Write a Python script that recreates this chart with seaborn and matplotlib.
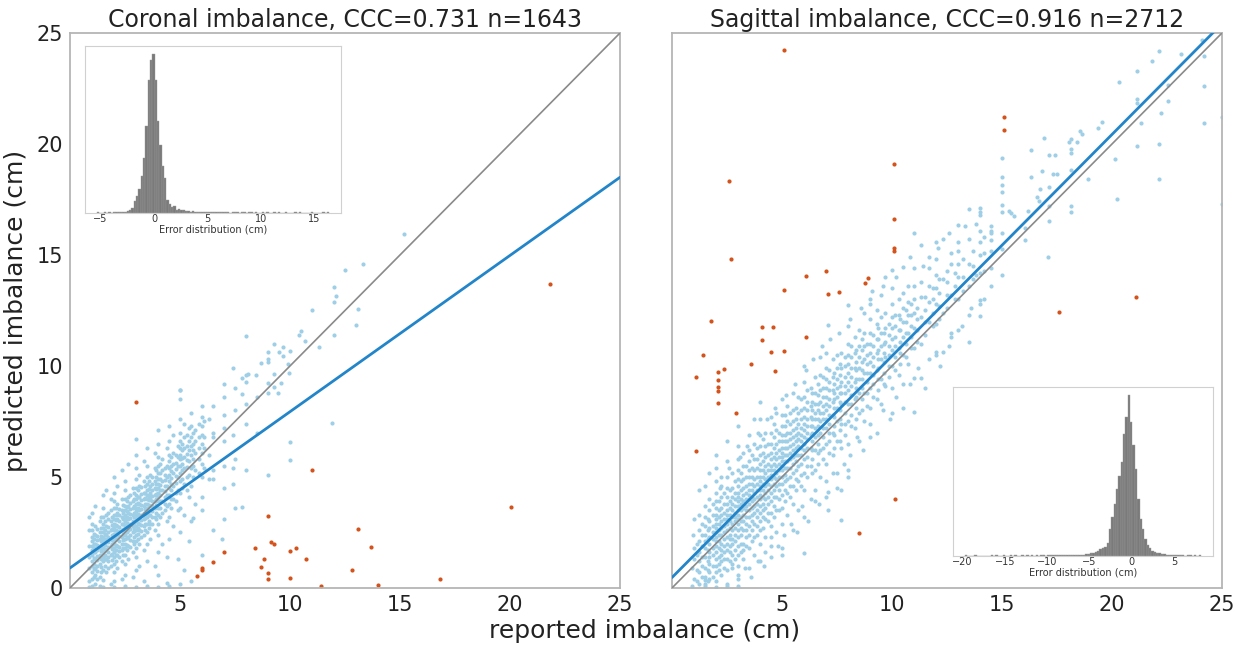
import numpy as np
import pandas as pd
import matplotlib
matplotlib.use("Agg")
import matplotlib.pyplot as plt
import seaborn as sns

sns.set_theme(style="white")
plt.rcParams["font.family"] = ["DejaVu Sans"]


def col(x, ys):
    """Points sharing one reported value."""
    return [(x, y) for y in ys]


# ---------------- Coronal imbalance ----------------
cor_title = "Coronal imbalance, CCC=0.731 n=1643"
cor_fit = (0.704, 0.90)          # slope, intercept of the regression line

cor_inliers = (
    col(0.85, [0.05, 0.3, 0.9, 1.4, 1.9, 2.6, 3.2])
    + col(1.0, [0.1, 0.4, 0.7, 1.0, 1.2, 1.5, 1.7, 1.9, 2.1, 2.3, 2.6, 2.9, 3.4])
    + col(1.15, [0.2, 0.6, 0.9, 1.3, 1.6, 2.0, 2.4, 2.8, 3.7])
    + col(1.35, [0.1, 0.5, 1.1, 1.5, 1.8, 2.2, 2.5, 3.0])
    + col(1.5, [0.05, 0.35, 0.8, 1.2, 1.4, 1.6, 1.8, 2.0, 2.15, 2.3, 2.5, 2.7, 2.9, 3.2, 3.6, 4.2])
    + col(1.65, [0.7, 1.3, 1.7, 2.1, 2.4, 2.8, 3.3, 4.4])
    + col(1.85, [0.2, 1.0, 1.5, 1.9, 2.2, 2.6, 3.0, 3.5, 4.0])
    + col(2.0, [0.05, 0.3, 0.7, 1.1, 1.4, 1.6, 1.8, 2.0, 2.1, 2.3, 2.45, 2.6, 2.75, 2.9, 3.1, 3.3, 3.6, 3.9, 4.3, 5.0])
    + col(2.15, [0.9, 1.5, 1.9, 2.2, 2.5, 2.8, 3.1, 3.4, 3.8, 4.6])
    + col(2.35, [0.4, 1.2, 1.7, 2.0, 2.3, 2.6, 2.9, 3.2, 3.5, 4.0, 5.3])
    + col(2.5, [0.1, 0.6, 1.1, 1.5, 1.8, 2.0, 2.2, 2.4, 2.55, 2.7, 2.85, 3.0, 3.15, 3.3, 3.5, 3.7, 4.0, 4.4, 4.8])
    + col(2.65, [1.3, 1.9, 2.3, 2.6, 2.8, 3.1, 3.4, 3.7, 4.1, 5.6])
    + col(2.85, [0.5, 1.6, 2.1, 2.5, 2.8, 3.0, 3.3, 3.6, 3.9, 4.5])
    + col(3.0, [0.05, 0.8, 1.4, 1.8, 2.1, 2.4, 2.6, 2.8, 3.0, 3.15, 3.3, 3.45, 3.6, 3.8, 4.0, 4.2, 4.5, 4.9, 5.4, 6.0, 6.7])
    + col(3.15, [1.0, 2.0, 2.6, 2.9, 3.2, 3.5, 3.8, 4.1, 4.6, 5.1])
    + col(3.35, [0.3, 1.7, 2.4, 2.8, 3.1, 3.4, 3.7, 4.0, 4.3, 4.8, 5.7])
    + col(3.5, [0.1, 1.2, 2.0, 2.5, 2.9, 3.2, 3.4, 3.6, 3.8, 4.0, 4.2, 4.4, 4.7, 5.0, 5.5, 6.3])
    + col(3.65, [2.2, 2.9, 3.3, 3.7, 4.0, 4.3, 4.6, 5.1])
    + col(3.85, [1.0, 2.6, 3.2, 3.6, 3.9, 4.2, 4.5, 4.8, 5.4, 6.1])
    + col(4.0, [0.05, 0.6, 1.6, 2.4, 2.9, 3.3, 3.6, 3.9, 4.1, 4.3, 4.5, 4.7, 4.9, 5.2, 5.5, 5.9, 6.5, 7.1])
    + col(4.2, [2.0, 3.4, 3.9, 4.4, 4.8, 5.3, 5.8])
    + col(4.4, [0.24, 1.4, 3.0, 3.7, 4.2, 4.6, 5.0, 5.5, 6.3])
    + col(4.5, [0.1, 2.2, 3.2, 3.8, 4.2, 4.5, 4.8, 5.1, 5.4, 5.7, 6.0, 6.6, 7.3])
    + col(4.7, [2.8, 4.0, 4.6, 5.2, 5.6, 6.1, 6.9])
    + col(4.9, [1.3, 3.5, 4.4, 5.0, 5.5, 5.9, 6.4])
    + col(5.0, [0.2, 2.5, 3.6, 4.3, 4.8, 5.2, 5.5, 5.8, 6.0, 6.3, 6.6, 7.0, 7.6, 8.5, 8.9])
    + col(5.2, [0.81, 3.3, 4.7, 5.4, 5.9, 6.3, 6.8, 7.4])
    + col(5.4, [2.1, 4.1, 5.1, 5.7, 6.2, 6.6, 7.2])
    + col(5.5, [0.3, 3.0, 4.6, 5.4, 6.0, 6.4, 6.8, 7.3, 7.9])
    + col(5.6, [3.17])
    + col(5.7, [3.8, 5.3, 6.1, 6.6, 7.1])
    + col(6.0, [1.5, 3.5, 4.1, 5.0, 5.6, 6.1, 6.5, 6.9, 7.3, 7.7, 8.2])
    + col(6.3, [4.9, 6.0, 7.6])
    + col(6.5, [2.6, 4.9, 5.3, 6.8, 7.0, 8.2])
    + col(6.9, [2.19])
    + col(7.0, [3.1, 4.5, 5.5, 6.6, 7.2, 7.8, 8.6, 9.2])
    + col(7.4, [4.7, 5.42, 6.9, 9.9])
    + col(7.5, [3.6, 5.8, 8.0, 9.0])
    + col(7.8, [3.66, 8.75, 9.45])
    + col(8.0, [5.3, 7.4, 8.3, 9.3, 9.61, 11.37])
    + [(8.1, 9.64), (8.47, 9.61), (8.5, 7.0), (8.5, 8.6), (8.69, 10.15)]
    + col(9.0, [5.1, 8.8, 9.22, 10.19, 10.31, 10.63])
    + [(9.29, 9.07), (9.29, 9.64), (9.29, 10.98), (9.45, 8.8), (9.48, 10.64),
       (9.6, 9.22), (9.69, 10.46), (9.69, 10.87), (9.97, 9.67), (9.9, 10.1),
       (10.0, 10.69), (10.0, 6.58), (10.0, 5.77), (10.39, 11.41), (10.5, 11.58),
       (10.7, 11.13), (11.0, 12.52), (11.3, 10.87), (11.9, 7.45), (12.0, 11.4),
       (12.0, 12.9), (12.1, 13.17), (12.0, 13.57), (12.5, 14.32), (13.0, 11.83),
       (13.1, 12.58), (13.3, 14.58), (15.2, 15.95), (4.98, 8.92)]
)

# the crowded centre of the coronal cloud
cor_core = (
    col(1.08, [0.5, 0.85, 1.1, 1.35, 1.6, 1.8, 2.0, 2.2, 2.45])
    + col(1.25, [0.4, 0.75, 1.0, 1.25, 1.45, 1.7, 1.95, 2.15, 2.35, 2.65])
    + col(1.42, [0.7, 0.95, 1.3, 1.65, 1.95, 2.1, 2.35, 2.7, 3.2])
    + col(1.58, [1.0, 1.3, 1.5, 1.75, 1.95, 2.2, 2.45, 2.6, 3.0])
    + col(1.75, [0.9, 1.2, 1.4, 1.6, 1.85, 2.05, 2.3, 2.5, 2.75, 3.1, 3.4])
    + col(1.92, [1.25, 1.55, 1.75, 2.0, 2.15, 2.4, 2.65, 2.85, 3.2])
    + col(2.08, [1.2, 1.5, 1.7, 1.95, 2.2, 2.4, 2.6, 2.85, 3.05, 3.3, 3.6])
    + col(2.25, [1.4, 1.65, 1.85, 2.1, 2.35, 2.55, 2.75, 3.0, 3.3, 3.55])
    + col(2.42, [1.5, 1.8, 2.15, 2.45, 2.65, 2.9, 3.1, 3.4, 3.75])
    + col(2.58, [1.7, 1.95, 2.25, 2.5, 2.75, 2.95, 3.2, 3.45, 3.65, 3.9])
    + col(2.75, [1.85, 2.15, 2.4, 2.65, 2.9, 3.15, 3.35, 3.55, 3.85, 4.2])
    + col(2.92, [2.0, 2.3, 2.55, 2.7, 2.95, 3.2, 3.4, 3.7, 4.0, 4.3])
    + col(3.08, [2.2, 2.45, 2.7, 2.95, 3.1, 3.35, 3.6, 3.85, 4.1, 4.4])
    + col(3.25, [2.3, 2.55, 2.85, 3.05, 3.3, 3.55, 3.75, 3.95, 4.25, 4.55])
    + col(3.42, [2.6, 2.9, 3.15, 3.35, 3.55, 3.8, 4.05, 4.3, 4.6])
    + col(3.58, [2.7, 3.0, 3.3, 3.5, 3.75, 3.95, 4.15, 4.45, 4.8])
    + col(3.75, [2.9, 3.2, 3.45, 3.7, 3.9, 4.15, 4.4, 4.7, 5.0])
    + col(3.92, [3.1, 3.4, 3.75, 4.0, 4.25, 4.45, 4.7, 5.0, 5.3])
    + col(4.1, [3.2, 3.6, 3.9, 4.2, 4.4, 4.65, 4.9, 5.2, 5.6])
    + col(4.3, [3.5, 3.8, 4.1, 4.35, 4.6, 4.85, 5.1, 5.4])
    + col(4.6, [3.6, 4.0, 4.4, 4.7, 4.95, 5.25, 5.5, 5.9])
    + col(4.8, [3.9, 4.3, 4.75, 5.05, 5.35, 5.65, 6.0])
    + col(5.1, [4.5, 4.9, 5.3, 5.6, 5.85, 6.2, 6.5])
    + col(5.3, [4.4, 5.0, 5.45, 5.75, 6.05, 6.4, 6.9])
    + col(5.6, [5.0, 5.5, 5.8, 6.2, 6.5, 7.0])
    + col(5.85, [5.2, 5.8, 6.3, 6.8, 7.4])
    + col(6.1, [5.4, 6.3, 6.8, 7.5])
)

cor_outliers = [
    (2.99, 8.37), (11.0, 5.32), (20.03, 3.63), (9.0, 3.23), (13.1, 2.67),
    (9.12, 2.06), (9.29, 1.97), (8.39, 1.80), (13.7, 1.83), (6.98, 1.61),
    (10.0, 1.68), (10.29, 1.79), (10.71, 1.32), (8.8, 1.31), (6.49, 1.19),
    (8.69, 0.95), (6.0, 0.92), (6.0, 0.81), (12.8, 0.80), (5.76, 0.53),
    (9.0, 0.66), (9.0, 0.39), (10.0, 0.44), (16.8, 0.42), (11.4, 0.10),
    (14.0, 0.14), (21.8, 13.7),
]

# error histogram (reported - predicted), 100 bins
cor_err_range = (-5.38, 16.44)
cor_err_counts = [
    1, 0, 0, 1, 0, 1, 0, 1, 1, 1, 1, 2, 2, 3, 4, 7, 17, 24,
    34, 53, 79, 125, 192, 220, 229, 192, 132, 98, 67, 50,
    19, 13, 9, 10, 5, 6, 4, 5, 3, 3, 2, 3, 2, 2, 2, 2, 1, 2, 1, 1,
    2, 1, 1, 2, 1, 1, 1, 0, 1, 1, 1, 0, 1, 1, 0, 1, 1, 0, 1, 0,
    0, 1, 0, 1, 0, 0, 1, 0, 1, 0, 0, 1, 0, 0, 0, 1, 0, 1, 0, 0,
    0, 0, 1, 0, 0, 0, 0, 1, 0, 1,
]
cor_err_ticks = [-5, 0, 5, 10, 15]

# ---------------- Sagittal imbalance ----------------
sag_title = "Sagittal imbalance, CCC=0.916 n=2712"
sag_fit = (0.998, 0.47)

sag_inliers = (
    col(0.9, [0.1, 0.9]) + col(1.0, [0.4, 1.3, 1.8, 3.1]) + [(0.95, 2.4)]
    + col(1.25, [0.2, 0.7, 1.2, 1.6, 2.1, 2.6, 3.3, 4.4])
    + col(1.5, [0.1, 0.2, 0.36, 0.5, 0.9, 1.4, 1.8, 2.1, 2.4, 2.8, 3.2, 3.7, 4.6])
    + col(1.7, [0.4, 0.7, 1.1, 1.4, 1.6, 2.0, 2.3, 2.7, 3.0, 3.5, 4.0, 5.2])
    + col(2.0, [0.05, 0.3, 0.7, 1.0, 1.3, 1.6, 1.9, 2.1, 2.3, 2.5, 2.7, 2.9, 3.1, 3.3, 3.6, 3.9, 4.3, 4.8, 5.4, 6.0])
    + col(2.25, [0.6, 1.2, 1.5, 1.7, 2.0, 2.4, 2.7, 3.0, 3.3, 3.6, 4.1, 4.6, 5.0])
    + col(2.5, [0.2, 0.8, 1.3, 1.7, 2.0, 2.3, 2.6, 2.9, 3.1, 3.3, 3.5, 3.8, 4.1, 4.5, 5.0, 5.7, 6.6])
    + col(2.75, [0.9, 1.1, 1.5, 2.0, 2.2, 2.6, 2.9, 3.2, 3.5, 3.8, 4.1, 4.5, 5.2])
    + col(3.0, [0.09, 0.4, 1.0, 1.5, 1.9, 2.3, 2.6, 2.9, 3.1, 3.3, 3.5, 3.7, 3.9, 4.1, 4.3, 4.6, 4.9, 5.3, 5.8, 6.4, 7.3])
    + col(3.25, [1.3, 1.7, 2.0, 2.6, 3.0, 3.3, 3.6, 3.9, 4.2, 4.5, 4.9, 5.5, 6.1])
    + col(3.5, [0.9, 1.8, 2.4, 2.8, 3.2, 3.5, 3.8, 4.0, 4.2, 4.4, 4.7, 5.0, 5.3, 5.7, 6.2, 6.9])
    + col(3.75, [1.5, 2.3, 2.9, 3.4, 3.7, 4.0, 4.3, 4.6, 4.9, 5.3, 5.8, 6.5, 7.6])
    + col(4.0, [1.2, 2.0, 2.6, 3.0, 3.4, 3.7, 4.0, 4.2, 4.4, 4.6, 4.8, 5.0, 5.3, 5.6, 6.0, 6.4, 6.9, 7.6, 8.4])
    + col(4.25, [1.6, 2.3, 3.1, 3.6, 4.0, 4.3, 4.6, 4.9, 5.2, 5.5, 5.9, 6.4, 7.0])
    + col(4.5, [1.41, 1.9, 2.8, 3.4, 3.9, 4.3, 4.6, 4.9, 5.1, 5.3, 5.5, 5.8, 6.1, 6.5, 7.0, 7.7])
    + col(4.75, [2.5, 3.5, 4.1, 4.6, 4.9, 5.2, 5.5, 5.8, 6.1, 6.5, 7.1, 7.9])
    + col(5.0, [1.49, 1.8, 2.9, 3.6, 4.2, 4.7, 5.0, 5.3, 5.5, 5.7, 5.9, 6.1, 6.3, 6.6, 6.9, 7.3, 7.8, 8.5])
    + col(5.25, [3.3, 4.3, 4.9, 5.4, 5.7, 6.0, 6.3, 6.6, 7.0, 7.5, 8.2])
    + col(5.5, [2.6, 3.8, 4.6, 5.2, 5.6, 5.9, 6.2, 6.5, 6.8, 7.1, 7.5, 8.0, 8.8])
    + col(5.75, [3.5, 4.8, 5.5, 6.0, 6.4, 6.7, 7.0, 7.4, 7.9, 8.6])
    + col(6.0, [1.56, 3.2, 4.4, 5.2, 5.8, 6.2, 6.5, 6.8, 7.1, 7.4, 7.7, 8.1, 8.6, 9.3, 10.0])
    + col(6.3, [4.0, 5.5, 6.3, 6.9, 7.3, 7.7, 8.2, 9.0])
    + col(6.5, [3.9, 5.3, 6.2, 6.8, 7.2, 7.6, 7.9, 8.3, 8.8, 9.5])
    + col(6.75, [5.0, 6.2, 7.0, 7.5, 7.9, 8.4, 8.9, 9.6, 10.4])
    + col(7.0, [4.1, 5.6, 6.5, 7.2, 7.6, 8.0, 8.3, 8.6, 9.0, 9.4, 9.9, 10.6])
    + col(7.1, [3.51, 4.34, 11.86])
    + col(7.3, [6.0, 7.0, 7.8, 8.4, 8.9, 9.5, 10.3])
    + col(7.5, [5.2, 6.6, 7.5, 8.1, 8.6, 9.0, 9.4, 9.9, 10.5])
    + col(7.7, [3.06, 4.41, 6.3, 7.4, 8.3, 8.8, 9.3, 9.9, 10.6])
    + col(8.0, [5.0, 5.3, 6.5, 7.5, 8.3, 8.9, 9.3, 9.7, 10.1, 10.5, 11.0, 11.8, 12.73])
    + col(8.3, [7.2, 8.5, 9.3, 9.9, 10.6, 11.3])
    + col(8.5, [6.6, 7.9, 8.8, 9.4, 9.9, 10.4, 10.9, 11.6])
    + col(8.75, [7.5, 8.8, 9.7, 10.3, 10.9, 11.5, 12.4])
    + col(9.0, [6.8, 8.1, 9.0, 9.7, 10.2, 10.6, 11.0, 11.5, 12.1, 12.77, 13.0])
    + col(9.3, [8.5, 9.8, 10.6, 11.2, 11.9, 12.5])
    + col(9.5, [8.3, 9.4, 10.3, 10.9, 11.5, 12.2, 13.2])
    + col(9.7, [9.1, 10.4, 11.1, 11.7, 12.4, 14.03])
    + col(10.0, [7.9, 9.0, 10.0, 10.7, 11.2, 11.7, 12.2, 12.8, 13.5, 14.33])
    + col(10.3, [9.6, 10.8, 11.6, 12.3, 13.0])
    + col(10.5, [9.2, 10.5, 11.3, 12.0, 12.6, 13.3, 14.45])
    + col(10.75, [10.1, 11.5, 12.3, 12.9, 13.6])
    + col(11.0, [7.94, 9.44, 10.8, 11.7, 12.4, 13.0, 13.6, 14.4, 16.0])
    + col(11.3, [9.44, 11.0, 12.2, 13.1, 13.8, 15.45])
    + col(11.7, [10.3, 12.0, 12.9, 13.6, 14.4, 14.9])
    + col(12.0, [10.5, 10.65, 11.9, 12.8, 13.5, 14.1, 14.8, 15.6])
    + col(12.3, [10.65, 12.4, 13.9, 15.7])
    + col(12.7, [11.32, 11.5, 13.2, 14.6, 15.1])
    + col(13.0, [11.6, 13.0, 14.0, 14.6, 15.2, 15.6, 16.36])
    + col(13.5, [11.1, 12.3, 13.6, 14.6, 15.7, 17.05])
    + col(13.8, [14.1, 16.4])
    + col(14.0, [12.25, 12.8, 12.97, 14.2, 15.0, 15.6, 16.1, 16.8, 16.95, 17.1])
    + col(14.5, [13.6, 14.4, 15.2, 15.67, 15.97, 16.07, 16.29])
    + col(15.0, [14.1, 15.25, 16.0, 16.94, 17.24, 17.82, 18.14, 18.51, 19.37])
    + [(15.3, 17.0), (15.43, 16.89), (15.53, 16.74),
       (16.06, 16.2), (16.06, 15.67), (16.32, 19.71), (16.32, 18.5), (16.61, 17.61),
       (16.7, 17.42), (16.73, 17.99), (16.82, 18.77), (16.93, 20.29), (16.2, 17.0),
       (17.07, 14.9), (17.12, 19.49), (17.43, 19.5), (17.34, 18.65), (17.52, 18.65),
       (17.12, 18.06), (17.12, 17.19), (17.12, 16.52),
       (18.03, 20.09), (18.12, 20.24), (18.43, 20.08), (18.12, 19.79), (18.12, 19.59),
       (18.62, 20.47), (18.12, 18.81), (18.12, 17.19), (18.12, 16.95), (18.93, 18.44),
       (18.56, 20.6), (19.35, 20.71), (19.53, 21.01), (20.12, 19.32), (20.22, 17.54),
       (20.34, 22.79), (21.14, 23.3), (21.14, 22.03), (21.14, 21.85), (21.34, 20.95),
       (21.14, 19.89), (21.84, 23.74), (22.14, 24.19), (22.15, 20.02), (22.14, 18.44),
       (22.23, 21.4), (22.55, 22.67), (22.55, 21.94), (23.14, 24.07), (24.08, 24.67),
       (24.16, 22.6), (24.16, 20.95), (24.19, 23.95), (25.0, 17.3), (25.0, 21.2)]
)

# the crowded band of the sagittal cloud
sag_core = (
    col(1.12, [0.3, 0.8, 1.5, 2.0])
    + col(1.38, [0.5, 1.0, 1.4, 1.9, 2.4, 2.9])
    + col(1.62, [0.3, 0.8, 1.2, 1.7, 2.2, 2.6, 3.1])
    + col(1.85, [0.5, 1.0, 1.5, 1.8, 2.2, 2.5, 2.8, 3.3, 3.8])
    + col(2.12, [0.8, 1.1, 1.4, 1.8, 2.1, 2.4, 2.6, 2.9, 3.2, 3.5, 3.9])
    + col(2.38, [0.9, 1.3, 1.6, 1.9, 2.2, 2.5, 2.8, 3.1, 3.4, 3.8, 4.3])
    + col(2.62, [1.2, 1.6, 1.9, 2.2, 2.4, 2.7, 3.0, 3.3, 3.6, 3.9, 4.4])
    + col(2.88, [1.3, 1.7, 2.1, 2.4, 2.7, 3.0, 3.2, 3.4, 3.7, 4.0, 4.3, 4.8])
    + col(3.12, [1.6, 2.0, 2.4, 2.7, 3.0, 3.2, 3.5, 3.8, 4.0, 4.4, 4.8, 5.2])
    + col(3.38, [1.9, 2.3, 2.6, 2.9, 3.2, 3.5, 3.7, 4.0, 4.3, 4.6, 5.0, 5.5])
    + col(3.62, [2.1, 2.6, 3.0, 3.3, 3.6, 3.9, 4.1, 4.4, 4.7, 5.0, 5.4, 6.0])
    + col(3.88, [2.4, 2.8, 3.2, 3.5, 3.8, 4.1, 4.4, 4.7, 5.0, 5.4, 5.8, 6.3])
    + col(4.12, [2.7, 3.2, 3.5, 3.8, 4.1, 4.4, 4.7, 5.0, 5.3, 5.7, 6.1, 6.7])
    + col(4.38, [3.0, 3.4, 3.8, 4.1, 4.4, 4.7, 5.0, 5.3, 5.6, 6.0, 6.5])
    + col(4.62, [3.2, 3.7, 4.1, 4.4, 4.7, 5.0, 5.3, 5.6, 5.9, 6.3, 6.8, 7.4])
    + col(4.88, [3.5, 4.0, 4.4, 4.7, 5.0, 5.3, 5.6, 5.9, 6.2, 6.6, 7.0])
    + col(5.12, [3.9, 4.4, 4.8, 5.1, 5.4, 5.7, 6.0, 6.3, 6.6, 6.9, 7.3, 7.8])
    + col(5.38, [4.1, 4.6, 5.0, 5.4, 5.8, 6.1, 6.4, 6.7, 7.0, 7.4, 7.9])
    + col(5.62, [4.4, 4.9, 5.3, 5.7, 6.0, 6.3, 6.6, 6.9, 7.2, 7.6, 8.1])
    + col(5.88, [4.6, 5.1, 5.6, 6.0, 6.3, 6.6, 6.9, 7.2, 7.6, 8.0, 8.5])
    + col(6.12, [5.0, 5.5, 5.9, 6.3, 6.7, 7.0, 7.3, 7.6, 8.0, 8.4, 8.9])
    + col(6.38, [5.2, 5.8, 6.2, 6.6, 7.0, 7.3, 7.6, 8.0, 8.4, 8.8])
    + col(6.62, [5.6, 6.1, 6.5, 6.9, 7.3, 7.6, 8.0, 8.3, 8.7, 9.2])
    + col(6.88, [5.8, 6.3, 6.8, 7.2, 7.6, 7.9, 8.2, 8.6, 9.0, 9.5])
    + col(7.12, [6.1, 6.6, 7.0, 7.4, 7.8, 8.2, 8.5, 8.9, 9.3, 9.8])
    + col(7.38, [6.3, 6.9, 7.3, 7.7, 8.1, 8.5, 8.8, 9.2, 9.7])
    + col(7.62, [6.6, 7.1, 7.6, 8.0, 8.4, 8.8, 9.1, 9.6, 10.1])
    + col(7.88, [6.9, 7.4, 7.9, 8.4, 8.8, 9.1, 9.5, 10.0, 10.4])
    + col(8.12, [7.3, 7.8, 8.3, 8.7, 9.1, 9.5, 9.9, 10.4, 10.9])
    + col(8.38, [7.6, 8.1, 8.6, 9.0, 9.4, 9.8, 10.2, 10.7])
    + col(8.62, [8.0, 8.5, 9.0, 9.4, 9.8, 10.2, 10.7, 11.2])
    + col(8.88, [8.2, 8.8, 9.3, 9.7, 10.1, 10.5, 11.0])
    + col(9.12, [8.6, 9.2, 9.6, 10.0, 10.4, 10.9, 11.4])
    + col(9.38, [8.9, 9.4, 9.9, 10.3, 10.7, 11.2, 11.7])
    + col(9.62, [9.2, 9.7, 10.2, 10.6, 11.0, 11.5])
    + col(9.88, [9.5, 10.0, 10.5, 10.9, 11.4, 11.9])
    + col(10.12, [9.8, 10.4, 10.9, 11.3, 11.8, 12.3])
    + col(10.38, [10.1, 10.6, 11.1, 11.6, 12.1])
    + col(10.62, [10.4, 11.0, 11.5, 12.0, 12.5])
    + col(10.88, [10.8, 11.3, 11.8, 12.3, 12.8])
    + col(11.12, [11.1, 11.6, 12.1, 12.6])
    + col(11.5, [11.4, 12.0, 12.5, 13.1])
    + col(11.85, [11.8, 12.4, 13.0, 13.5])
    + col(12.15, [12.1, 12.7, 13.3, 13.9])
    + col(12.5, [12.6, 13.2, 13.8, 14.3])
    + col(12.85, [13.0, 13.6, 14.2])
    + col(13.25, [13.4, 14.0, 14.8])
    + col(13.7, [13.9, 14.5, 15.2])
    + col(14.2, [14.3, 15.1, 15.8])
)

# looser points on both sides of the sagittal band
sag_spread = [
    (2.5, 0.1), (3.0, 0.6), (3.3, 0.9), (3.6, 0.5), (3.9, 1.2), (4.2, 1.0),
    (4.5, 2.3), (4.8, 1.9), (5.1, 2.4), (5.4, 2.9), (5.7, 2.5), (5.9, 3.7),
    (6.2, 3.0), (6.5, 4.4), (6.7, 3.8), (7.0, 4.8), (7.3, 5.2), (7.5, 4.5),
    (7.8, 5.6), (8.1, 6.0), (8.4, 6.8), (8.7, 6.2), (9.0, 7.4), (9.3, 7.0),
    (9.6, 8.0), (9.9, 7.6), (10.2, 8.6), (10.5, 8.1), (10.8, 9.2), (11.2, 9.9),
    (11.5, 9.0), (12.2, 10.0), (12.6, 10.9), (13.2, 11.8), (13.6, 12.6), (14.2, 13.0),
    (2.2, 4.5), (2.6, 5.4), (3.1, 5.9), (3.4, 6.4), (3.9, 7.0), (4.3, 7.6),
    (4.7, 8.1), (5.2, 8.7), (5.6, 9.2), (6.1, 9.8), (6.4, 10.3), (6.8, 10.9),
    (7.2, 11.2), (7.6, 11.5), (8.1, 12.1), (8.6, 12.6), (9.1, 13.4), (9.6, 13.6),
    (10.2, 14.0), (10.8, 14.9), (11.4, 14.5), (12.1, 15.3), (12.6, 16.0), (13.3, 16.3),
]

sag_outliers = [
    (5.09, 24.23), (15.07, 21.23), (15.07, 20.65), (10.09, 19.08), (2.59, 18.35),
    (10.09, 16.64), (10.09, 15.3), (10.09, 15.2), (2.67, 14.82), (21.09, 13.09),
    (6.99, 14.29), (6.1, 14.07), (8.9, 13.95), (8.78, 13.72), (5.09, 13.44),
    (7.09, 13.26), (7.59, 13.33), (17.59, 12.42), (1.79, 12.04), (4.08, 11.76),
    (4.59, 11.76), (4.11, 11.17), (1.39, 10.5), (4.5, 10.62), (5.09, 10.68),
    (6.1, 11.32), (3.59, 10.1), (2.38, 9.86), (2.1, 9.74), (2.1, 9.37),
    (2.1, 9.04), (2.1, 8.89), (2.1, 8.33), (1.09, 9.49), (4.7, 9.76),
    (2.91, 7.87), (1.09, 6.16), (10.12, 4.02), (8.52, 2.48),
]

sag_err_range = (-19.75, 8.17)
sag_err_counts = [
    1, 0, 0, 0, 1, 0, 0, 0, 0, 0, 0, 1, 0, 1, 0, 0, 1, 0, 0, 1,
    0, 1, 0, 0, 1, 0, 1, 0, 1, 0, 1, 0, 1, 1, 0, 1, 1, 1, 1, 1,
    1, 1, 1, 2, 1, 1, 2, 2, 2, 2,
    2, 3, 3, 5, 6, 8, 10, 13, 15, 18,
    26, 53, 76, 102, 132, 158, 185, 241, 274, 317, 264, 218, 172, 112, 73, 53,
    33, 21, 15, 9, 7, 6, 5, 3, 3, 2,
    1, 1, 1, 1, 1, 1, 1, 0, 1, 1, 0, 1, 0, 1,
]
sag_err_ticks = [-20, -15, -10, -5, 0, 5]

axis_ticks = [0, 5, 10, 15, 20, 25]
xlabel_text = "reported imbalance (cm)"
ylabel_text = "predicted imbalance (cm)"
inset_label = "Error distribution (cm)"

# ---------------- styling ----------------
POINT = "#9fcfe6"
OUTLIER = "#d4521c"
FIT = "#2385c9"
IDENT = "#8a8a8a"
SPINE = "#b5b5b5"
BAR = "#7a7a7a"

fig = plt.figure(figsize=(12.49, 6.48), dpi=100)
ax_c = fig.add_axes([0.056, 0.0926, 0.4404, 0.8565])
ax_s = fig.add_axes([0.538, 0.0926, 0.4404, 0.8565])


def draw_panel(ax, inliers, outliers, fit, title, show_y):
    df_in = pd.DataFrame(inliers, columns=["reported", "predicted"])
    df_out = pd.DataFrame(outliers, columns=["reported", "predicted"])
    sns.scatterplot(data=df_in, x="reported", y="predicted", ax=ax,
                    color=POINT, s=9, linewidth=0, marker="o", zorder=2)
    sns.scatterplot(data=df_out, x="reported", y="predicted", ax=ax,
                    color=OUTLIER, s=9, linewidth=0, marker="o", zorder=2)
    line_x = np.array([0.0, 25.0])
    ax.plot(line_x, line_x, color=IDENT, lw=1.2, zorder=3)
    ax.plot(line_x, fit[0] * line_x + fit[1], color=FIT, lw=2.0, zorder=4)
    ax.set_xlim(0, 25)
    ax.set_ylim(0, 25)
    ax.set_xticks(axis_ticks[1:])
    ax.set_yticks(axis_ticks)
    ax.tick_params(axis="both", length=0, labelsize=15, pad=5, colors="#222222")
    if not show_y:
        ax.set_yticklabels([])
    ax.set_xlabel("")
    ax.set_ylabel("")
    ax.set_title(title, fontsize=17, pad=4, color="#222222")
    for sp in ax.spines.values():
        sp.set_color(SPINE)
        sp.set_linewidth(1.3)


draw_panel(ax_c, cor_inliers + cor_core, cor_outliers, cor_fit, cor_title, True)
draw_panel(ax_s, sag_inliers + sag_core + sag_spread, sag_outliers, sag_fit,
           sag_title, False)
ax_c.set_ylabel(ylabel_text, fontsize=18, color="#222222", labelpad=6)
fig.text(0.516, 0.027, xlabel_text, ha="center", va="center",
         fontsize=18, color="#222222")


def draw_inset(rect, err_range, counts, ticks):
    ax = fig.add_axes(rect)
    edges = np.linspace(err_range[0], err_range[1], len(counts) + 1)
    hist_df = pd.DataFrame({"err": 0.5 * (edges[:-1] + edges[1:]),
                            "n": np.asarray(counts, dtype=float)})
    sns.histplot(data=hist_df, x="err", weights="n", bins=list(edges), ax=ax,
                 color=BAR, edgecolor="#9a9a9a", linewidth=0.3, alpha=1.0)
    ax.set_yticks([])
    ax.set_ylabel("")
    ax.set_xticks(ticks)
    ax.tick_params(axis="x", length=0, labelsize=7, pad=1, colors="#333333")
    ax.set_xlabel(inset_label, fontsize=7, labelpad=0, color="#333333")
    for sp in ax.spines.values():
        sp.set_color("#d0d0d0")
        sp.set_linewidth(0.8)
    return ax


draw_inset([0.068, 0.6713, 0.205, 0.2577], cor_err_range, cor_err_counts, cor_err_ticks)
draw_inset([0.763, 0.142, 0.208, 0.2608], sag_err_range, sag_err_counts, sag_err_ticks)

fig.savefig("out.png", dpi=100)
